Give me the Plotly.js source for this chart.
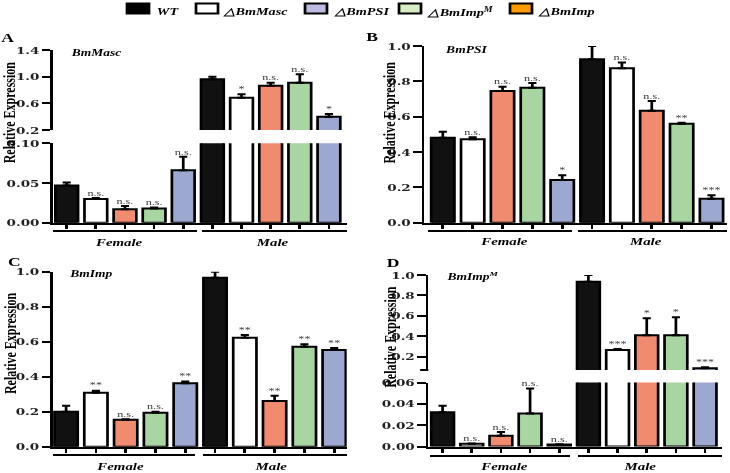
<!DOCTYPE html>
<html>
<head>
<meta charset="utf-8">
<script src="https://cdn.plot.ly/plotly-3.0.1.min.js"></script>
<style>
  html, body { margin: 0; padding: 0; background: #fff; overflow: hidden; }
  /* the original figure is stretched sideways, so the page is too */
  #plot { width: 540px; height: 473px; transform: scaleX(1.351852); transform-origin: 0 0; will-change: transform; }
</style>
</head>
<body>
<div id="plot"></div>
<script>
// bar order inside each sex group
var strains = ["WT", "ΔBmMasc", "ΔBmImp", "ΔBmImpM", "ΔBmPSI"];
var barColors = ["#111111", "#ffffff", "#f08b6f", "#a9d5a3", "#9da8d0"];
var groups = ["Female", "Male"];

// legend as printed on top of the figure
var legendNames = ["WT", "△BmMasc", "△BmPSI", "△BmImp<sup>M</sup>", "△BmImp"];
var legendColors = ["#000000", "#ffffff", "#bcbde0", "#d6eec3", "#ff9a00"];

// A  BmMasc
var mascFemale = [0.047, 0.030, 0.017, 0.018, 0.066];
var mascFemaleErr = [0.0035, 0.001, 0.004, 0.001, 0.017];
var mascMale = [0.96, 0.685, 0.865, 0.91, 0.40];
var mascMaleErr = [0.04, 0.05, 0.045, 0.125, 0.04];
var mascFemaleSig = ["", "n.s.", "n.s.", "n.s.", "n.s."];
var mascMaleSig = ["", "*", "n.s.", "n.s.", "*"];

// B  BmPSI
var psiFemale = [0.481, 0.472, 0.745, 0.764, 0.242];
var psiFemaleErr = [0.034, 0.011, 0.025, 0.026, 0.026];
var psiMale = [0.925, 0.874, 0.634, 0.56, 0.135];
var psiMaleErr = [0.075, 0.032, 0.055, 0.005, 0.02];
var psiFemaleSig = ["", "n.s.", "n.s.", "n.s.", "*"];
var psiMaleSig = ["", "n.s.", "n.s.", "**", "***"];

// C  BmImp
var impFemale = [0.20, 0.309, 0.154, 0.194, 0.362];
var impFemaleErr = [0.034, 0.011, 0.003, 0.006, 0.011];
var impMale = [0.966, 0.623, 0.261, 0.571, 0.552];
var impMaleErr = [0.034, 0.015, 0.03, 0.014, 0.012];
var impFemaleSig = ["", "**", "n.s.", "n.s.", "**"];
var impMaleSig = ["", "**", "**", "**", "**"];

// D  BmImpM
var impMFemale = [0.0322, 0.0025, 0.0101, 0.031, 0.0019];
var impMFemaleErr = [0.006, 0.0003, 0.0035, 0.0233, 0.0003];
var impMMale = [0.934, 0.265, 0.41, 0.41, 0.086];
var impMMaleErr = [0.066, 0.01, 0.166, 0.176, 0.01];
var impMFemaleSig = ["", "n.s.", "n.s.", "n.s.", "n.s."];
var impMMaleSig = ["", "***", "*", "*", "***"];

function px(x) { return x / 730; }
function py(y) { return 1 - y / 473; }

var traces = [];

function addPanel(female, fErr, male, mErr, fSig, mSig, xa, yLow, yHigh) {
  var yAxes = yLow === yHigh ? [yLow] : [yLow, yHigh];
  yAxes.forEach(function (ya) {
    strains.forEach(function (s, i) {
      traces.push({
        type: "bar", name: s, x: [i, i + 5], y: [female[i], male[i]],
        xaxis: xa, yaxis: ya, width: 0.78, showlegend: false, hoverinfo: "skip",
        marker: { color: barColors[i], line: { color: "#000", width: 2 } },
        error_y: { type: "data", symmetric: false, array: [fErr[i], mErr[i]],
                   arrayminus: [0, 0], color: "#000", thickness: 2, width: 3 }
      });
    });
  });
  // significance marks, only where there is one
  var sigs = [[female, fErr, fSig, 0, yLow], [male, mErr, mSig, 5, yHigh]];
  sigs.forEach(function (g) {
    var xs = [], ys = [], ts = [];
    g[2].forEach(function (t, i) {
      if (!t) return;
      xs.push(i + g[3]);
      ys.push(g[0][i] + g[1][i]);
      ts.push(t);
    });
    traces.push({
      type: "scatter", mode: "text", xaxis: xa, yaxis: g[4],
      x: xs, y: ys, text: ts, textposition: "top center", cliponaxis: false,
      textfont: { family: "Liberation Serif", size: 9, color: "#3a3a3a" },
      showlegend: false, hoverinfo: "skip"
    });
  });
}

addPanel(mascFemale, mascFemaleErr, mascMale, mascMaleErr, mascFemaleSig, mascMaleSig, "x", "y", "y2");
addPanel(psiFemale, psiFemaleErr, psiMale, psiMaleErr, psiFemaleSig, psiMaleSig, "x2", "y3", "y3");
addPanel(impFemale, impFemaleErr, impMale, impMaleErr, impFemaleSig, impMaleSig, "x3", "y4", "y4");
addPanel(impMFemale, impMFemaleErr, impMMale, impMMaleErr, impMFemaleSig, impMMaleSig, "x4", "y5", "y6");

var tickFont = { family: "DejaVu Serif", size: 10, color: "#222", weight: "bold" };

function xAx(l, r, range, anchor) {
  return {
    domain: [px(l), px(r)], range: range, anchor: anchor,
    showline: true, linewidth: 2, linecolor: "#000",
    ticks: "outside", ticklen: 4, tickwidth: 2, tickcolor: "#000",
    tickvals: [0, 1, 2, 3, 4, 5, 6, 7, 8, 9], showticklabels: false,
    showgrid: false, zeroline: false, fixedrange: true
  };
}
function yAx(bottom, top, range, anchor, vals, labels) {
  return {
    domain: [py(bottom), py(top)], range: range, anchor: anchor,
    showline: true, linewidth: 2, linecolor: "#000",
    ticks: "outside", ticklen: 6, tickwidth: 2, tickcolor: "#000",
    tickvals: vals, ticktext: labels, tickfont: tickFont,
    showgrid: false, zeroline: false, fixedrange: true
  };
}

var shapes = [];
var annotations = [];

// legend
legendNames.forEach(function (n, i) {
  var sx = [127, 196, 305, 399, 510][i];
  var tx = [154, 221, 331, 424, 535][i];
  shapes.push({ type: "rect", xref: "paper", yref: "paper",
    x0: px(sx), x1: px(sx + 22), y0: py(13.5), y1: py(3.5),
    fillcolor: legendColors[i], line: { color: "#000", width: 2 } });
  annotations.push({ xref: "paper", yref: "paper", x: px(tx), y: py(12),
    xanchor: "left", yanchor: "middle", showarrow: false,
    text: "<b><i>" + n + "</i></b>",
    font: { family: "Liberation Serif", size: 10.5, color: "#000" } });
});

// tick at the lower end of the upper part of the broken axis in D
shapes.push({ type: "line", xref: "paper", yref: "paper",
  x0: px(420.2), x1: px(428.3), y0: py(370), y1: py(370),
  line: { color: "#000", width: 2 } });

// panel furniture: letter, gene name, y title, group bars and labels
var panels = [
  { letter: "A", lx: 7.5, ly: 37, gene: "BmMasc", gx: 68, gy: 52, tx: 10, ty: 112,
    lineY: 231, f: [53, 197], m: [202, 347], labY: 242, fc: 118, mc: 272 },
  { letter: "B", lx: 372, ly: 36.5, gene: "BmPSI", gx: 442, gy: 50, tx: 390, ty: 112,
    lineY: 231, f: [428, 572], m: [578, 727], labY: 241, fc: 503, mc: 645 },
  { letter: "C", lx: 14, ly: 261, gene: "BmImp", gx: 66.5, gy: 273, tx: 11, ty: 343,
    lineY: 455, f: [53, 195], m: [203, 347], labY: 465.5, fc: 120, mc: 271 },
  { letter: "D", lx: 393, ly: 262, gene: "BmImp<sup>M</sup>", gx: 443, gy: 276, tx: 390.5, ty: 337,
    lineY: 456, f: [430, 570], m: [578, 722], labY: 466, fc: 503, mc: 640 }
];

panels.forEach(function (p) {
  annotations.push({ xref: "paper", yref: "paper", x: px(p.lx), y: py(p.ly),
    xanchor: "center", yanchor: "middle", showarrow: false, text: "<b>" + p.letter + "</b>",
    font: { family: "Liberation Serif", size: 13, color: "#000" } });
  annotations.push({ xref: "paper", yref: "paper", x: px(p.gx), y: py(p.gy),
    xanchor: "left", yanchor: "middle", showarrow: false, text: "<b><i>" + p.gene + "</i></b>",
    font: { family: "Liberation Serif", size: 10, color: "#000" } });
  annotations.push({ xref: "paper", yref: "paper", x: px(p.tx), y: py(p.ty),
    xanchor: "center", yanchor: "middle", showarrow: false, textangle: -90,
    text: "<b>Relative Expression</b>",
    font: { family: "Liberation Serif", size: 12, color: "#000" } });
  [[p.f, p.fc, groups[0]], [p.m, p.mc, groups[1]]].forEach(function (g) {
    shapes.push({ type: "line", xref: "paper", yref: "paper",
      x0: px(g[0][0]), x1: px(g[0][1]), y0: py(p.lineY), y1: py(p.lineY),
      line: { color: "#000", width: 2 } });
    annotations.push({ xref: "paper", yref: "paper", x: px(g[1]), y: py(p.labY),
      xanchor: "center", yanchor: "middle", showarrow: false, text: "<b><i>" + g[2] + "</i></b>",
      font: { family: "Liberation Serif", size: 11, color: "#000" } });
  });
});

var oneTicks = [0, 0.2, 0.4, 0.6, 0.8, 1.0];
var oneLabels = ["0.0", "0.2", "0.4", "0.6", "0.8", "1.0"];

var layout = {
  width: 540, height: 473,
  margin: { l: 0, r: 0, t: 0, b: 0 },
  paper_bgcolor: "#fff", plot_bgcolor: "rgba(0,0,0,0)",
  barmode: "overlay", showlegend: false,
  xaxis: xAx(53, 347, [-0.47, 9.62], "y"),
  yaxis: yAx(222.7, 143.3, [0, 0.1], "x", [0, 0.05, 0.1], ["0.00", "0.05", "0.10"]),
  yaxis2: yAx(130, 50, [0.2, 1.4], "x", [0.2, 0.6, 1.0, 1.4], ["0.2", "0.6", "1.0", "1.4"]),
  xaxis2: xAx(424.3, 726.7, [-0.62, 9.51], "y3"),
  yaxis3: yAx(222.7, 46, [0, 1], "x2", oneTicks, oneLabels),
  xaxis3: xAx(52.7, 346.7, [-0.45, 9.42], "y4"),
  yaxis4: yAx(446.7, 271.7, [0, 1], "x3", oneTicks, oneLabels),
  xaxis4: xAx(428.3, 721.7, [-0.49, 9.57], "y5"),
  yaxis5: yAx(446.5, 382.5, [0, 0.06], "x4", [0, 0.02, 0.04, 0.06], ["0.00", "0.02", "0.04", "0.06"]),
  yaxis6: yAx(370, 275, [0.07, 1.0], "x4", [0.2, 0.4, 0.6, 0.8, 1.0], ["0.2", "0.4", "0.6", "0.8", "1.0"]),
  shapes: shapes,
  annotations: annotations
};

Plotly.newPlot("plot", traces, layout, { displayModeBar: false, staticPlot: true });
</script>
</body>
</html>
